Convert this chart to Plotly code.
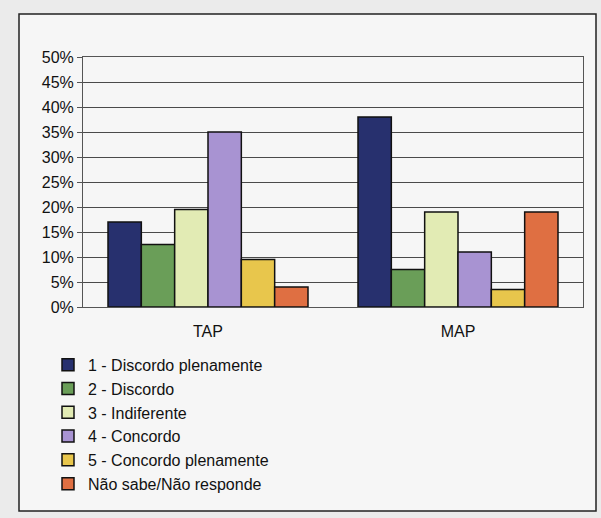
import plotly.graph_objects as go

categories = ["TAP", "MAP"]
series_names = [
    "1 - Discordo plenamente",
    "2 - Discordo",
    "3 - Indiferente",
    "4 - Concordo",
    "5 - Concordo plenamente",
    "Não sabe/Não responde",
]
tap_values = [17, 12.5, 19.5, 35, 9.5, 4]
map_values = [38, 7.5, 19, 11, 3.5, 19]
colors = ["#27306e", "#6a9e58", "#e2ebb4", "#a893d2", "#e8c64c", "#df6f42"]
y_ticks = [0, 5, 10, 15, 20, 25, 30, 35, 40, 45, 50]
y_tick_labels = [f"{v}%" for v in y_ticks]

fig = go.Figure()
for i, name in enumerate(series_names):
    fig.add_trace(go.Bar(
        x=categories,
        y=[tap_values[i], map_values[i]],
        name=name,
        legendgroup=f"g{i}",
        marker=dict(color=colors[i], line=dict(color="#111111", width=1.5)),
    ))

W, H = 601, 518
fig.update_layout(
    width=W, height=H,
    margin=dict(l=83, r=18, t=57, b=211),
    paper_bgcolor="#ebebeb",
    plot_bgcolor="#c6c6cb",
    barmode="group",
    bargap=0.2,
    bargroupgap=0,
    font=dict(family="Liberation Sans, Arial, sans-serif", size=16, color="#111111"),
    showlegend=True,
    legend=dict(
        x=-0.07, y=-0.163, xanchor="left", yanchor="top",
        font=dict(size=16, color="#111111"),
        bgcolor="rgba(0,0,0,0)",
        tracegroupgap=5,
        traceorder="normal",
    ),
    shapes=[dict(
        type="rect", xref="paper", yref="paper", layer="below",
        x0=(19 - 83) / 500, x1=(596 - 83) / 500,
        y0=(307 - 511) / 250, y1=(307 - 14) / 250,
        line=dict(color="#222222", width=1.5),
        fillcolor="#f6f6f6",
    )],
)
fig.update_yaxes(
    range=[0, 50],
    tickvals=y_ticks,
    ticktext=y_tick_labels,
    showgrid=True, gridcolor="#4a4a4a", gridwidth=1,
    showline=True, linecolor="#555555", linewidth=1, mirror=True,
    ticks="outside", ticklen=5, tickcolor="#555555",
    zeroline=False,
    tickfont=dict(size=16),
)
fig.update_xaxes(
    showline=True, linecolor="#555555", linewidth=1, mirror=True,
    ticklabelstandoff=10,
    tickfont=dict(size=16),
)

fig.write_html("out.html")
